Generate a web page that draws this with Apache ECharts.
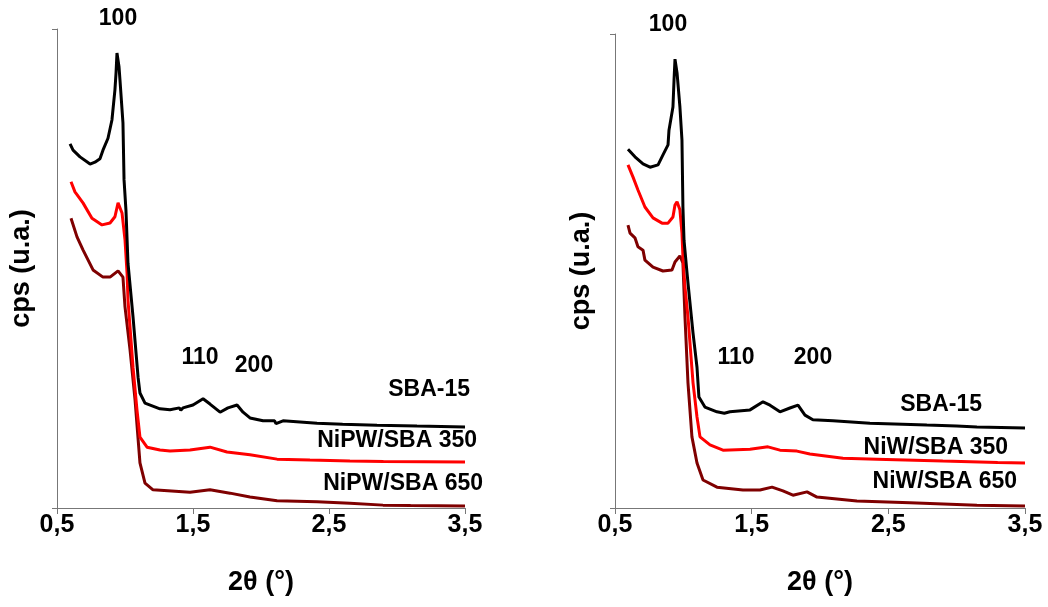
<!DOCTYPE html>
<html>
<head>
<meta charset="utf-8">
<script src="https://cdn.jsdelivr.net/npm/echarts@6/dist/echarts.min.js"></script>
<style>
html,body{margin:0;padding:0;background:#fff;}
#c{width:1048px;height:607px;}
</style>
</head>
<body>
<div id="c"></div>
<script>
// ---- data (2θ in degrees, intensity in arbitrary units) ----
const xTicks = [0.5, 1.5, 2.5, 3.5];
const xAxisTitle = '2θ (°)';
const yAxisTitle = 'cps (u.a.)';
const peakLabels = ['100', '110', '200'];
const leftNames = ['SBA-15', 'NiPW/SBA 350', 'NiPW/SBA 650'];
const rightNames = ['SBA-15', 'NiW/SBA 350', 'NiW/SBA 650'];

const leftSBA15 = [[0.596,76.0],[0.618,74.7],[0.669,73.3],[0.743,71.8],[0.779,72.2],[0.816,72.9],[0.838,74.7],[0.875,77.2],[0.904,81.0],[0.926,87.3],[0.934,90.8],[0.941,95.0],[0.956,92.1],[0.963,89.4],[0.985,80.4],[0.993,68.5],[1.007,62.2],[1.022,51.1],[1.059,39.9],[1.096,27.3],[1.110,24.0],[1.147,21.9],[1.257,20.7],[1.331,20.5],[1.40,20.9],[1.41,20.4],[1.426,20.9],[1.500,21.5],[1.574,22.8],[1.625,21.7],[1.699,20.0],[1.757,20.9],[1.824,21.5],[1.868,20.0],[1.919,18.8],[2.015,18.2],[2.10,18.2],[2.11,17.6],[2.162,18.2],[2.412,17.7],[2.60,17.5],[2.61,17.9],[2.853,17.3],[3.147,17.1],[3.5,16.9]];
const leftNiPW350 = [[0.603,68.1],[0.632,66.0],[0.691,63.7],[0.757,60.5],[0.831,59.1],[0.890,59.5],[0.926,60.8],[0.949,63.7],[0.978,61.6],[1.000,56.0],[1.015,49.1],[1.022,43.4],[1.059,29.4],[1.088,20.5],[1.110,14.8],[1.162,12.7],[1.257,12.1],[1.331,11.9],[1.478,12.1],[1.625,12.7],[1.750,11.7],[1.919,11.1],[2.118,10.2],[2.360,10.0],[2.654,9.8],[2.90,9.7],[2.91,10.1],[3.5,9.6]];
const leftNiPW650 = [[0.603,60.5],[0.647,56.6],[0.691,53.9],[0.765,49.7],[0.838,48.2],[0.890,48.2],[0.949,49.5],[0.985,48.2],[1.000,42.0],[1.037,33.0],[1.074,22.5],[1.110,9.4],[1.147,5.2],[1.206,3.8],[1.478,3.3],[1.625,3.8],[1.772,3.1],[1.919,2.3],[2.118,1.5],[2.412,1.3],[2.654,1.0],[2.897,0.6],[3.1,0.5],[3.11,0.9],[3.5,0.4]];

const rightSBA15 = [[0.595,75.7],[0.646,74.1],[0.705,72.6],[0.756,71.9],[0.815,72.4],[0.851,74.5],[0.888,76.6],[0.895,79.7],[0.924,84.6],[0.932,90.3],[0.939,94.7],[0.954,91.8],[0.975,84.6],[0.990,77.6],[0.997,63.5],[1.005,56.5],[1.027,49.6],[1.034,47.5],[1.071,36.9],[1.100,29.7],[1.114,23.4],[1.158,21.3],[1.246,20.3],[1.300,20.0],[1.341,20.3],[1.488,20.7],[1.583,22.4],[1.634,21.7],[1.707,20.3],[1.780,21.1],[1.839,21.7],[1.890,19.6],[1.948,18.6],[2.095,18.4],[2.365,17.9],[2.782,17.5],[3.0,17.3],[3.01,17.7],[3.148,17.1],[3.5,16.9]];
const rightNiW350 = [[0.595,72.4],[0.632,69.8],[0.668,67.1],[0.719,63.5],[0.778,61.2],[0.844,60.1],[0.888,60.1],[0.924,61.4],[0.939,63.9],[0.954,64.6],[0.975,62.9],[0.990,58.0],[0.997,53.0],[1.012,46.6],[1.034,40.3],[1.071,26.4],[1.100,19.2],[1.122,15.0],[1.195,13.3],[1.290,12.2],[1.488,12.4],[1.619,12.9],[1.707,12.2],[1.831,12.0],[1.926,11.4],[2.168,10.5],[2.417,10.3],[2.899,9.9],[3.3,9.6],[3.31,10.0],[3.5,9.5]];
const rightNiW650 = [[0.595,59.7],[0.610,58.0],[0.646,57.0],[0.668,55.1],[0.705,54.4],[0.719,52.3],[0.778,50.8],[0.851,50.0],[0.917,50.2],[0.939,51.9],[0.975,53.2],[0.997,51.7],[1.012,40.3],[1.034,26.4],[1.063,15.0],[1.100,9.5],[1.144,5.9],[1.246,4.4],[1.436,3.8],[1.561,3.8],[1.649,4.4],[1.729,3.6],[1.802,2.7],[1.905,3.4],[1.978,2.3],[2.124,1.9],[2.270,1.5],[2.658,1.1],[3.148,0.6],[3.5,0.4]];

const colors = ['#000000', '#ff0000', '#7f0000'];
const FONT = '"Liberation Sans", Arial, sans-serif';

function xAxisFor(idx) {
  return {
    gridIndex: idx, type: 'value', min: xTicks[0], max: xTicks[xTicks.length - 1], interval: 1,
    name: xAxisTitle, nameLocation: 'middle', nameGap: 61,
    nameTextStyle: { fontFamily: FONT, fontWeight: 'bold', fontSize: 27, color: '#000' },
    axisLine: { onZero: false, lineStyle: { color: '#777', width: 1 } },
    axisTick: { show: true, length: 6, lineStyle: { color: '#777' } },
    axisLabel: { margin: 5, fontFamily: FONT, fontWeight: 'bold', fontSize: 25, color: '#000',
      formatter: v => String(v).replace('.', ',') },
    splitLine: { show: false }
  };
}
function yAxisFor(idx, gap) {
  return {
    gridIndex: idx, type: 'value', min: 0, max: 100, interval: 100,
    name: yAxisTitle, nameLocation: 'middle', nameGap: gap, nameRotate: 90,
    nameTextStyle: { fontFamily: FONT, fontWeight: 'bold', fontSize: 27, color: '#000' },
    axisLine: { show: true, lineStyle: { color: '#777', width: 1 } },
    axisTick: { show: true, length: 5, lineStyle: { color: '#777' } },
    axisLabel: { show: false },
    splitLine: { show: false }
  };
}
function lineSeries(data, i, gi) {
  return { type: 'line', data: data, xAxisIndex: gi, yAxisIndex: gi, showSymbol: false,
    symbol: 'none', lineStyle: { color: colors[i], width: 3 }, z: 3 - i, animation: false };
}
function txt(text, x, y, align) {
  return { type: 'text', x: x, y: y, style: { text: text, fontFamily: FONT, fontWeight: 'bold',
    fontSize: 23, fill: '#000', align: align || 'center', verticalAlign: 'middle' } };
}

const chart = echarts.init(document.getElementById('c'), null, { renderer: 'canvas' });
chart.setOption({
  animation: false,
  grid: [
    { left: 57, top: 29, width: 408, height: 479 },
    { left: 615, top: 34, width: 410, height: 474 }
  ],
  xAxis: [xAxisFor(0), xAxisFor(1)],
  yAxis: [yAxisFor(0, 22), yAxisFor(1, 20)],
  series: [
    lineSeries(leftSBA15, 0, 0), lineSeries(leftNiPW350, 1, 0), lineSeries(leftNiPW650, 2, 0),
    lineSeries(rightSBA15, 0, 1), lineSeries(rightNiW350, 1, 1), lineSeries(rightNiW650, 2, 1)
  ],
  graphic: [
    txt(peakLabels[0], 118, 19), txt(peakLabels[1], 200, 358), txt(peakLabels[2], 254, 366),
    txt(leftNames[0], 470, 390, 'right'), txt(leftNames[1], 477, 441, 'right'), txt(leftNames[2], 483, 484, 'right'),
    txt(peakLabels[0], 668, 25), txt(peakLabels[1], 736, 358), txt(peakLabels[2], 813, 358),
    txt(rightNames[0], 982, 405, 'right'), txt(rightNames[1], 1008, 448, 'right'), txt(rightNames[2], 1017, 482, 'right')
  ]
});
</script>
</body>
</html>
